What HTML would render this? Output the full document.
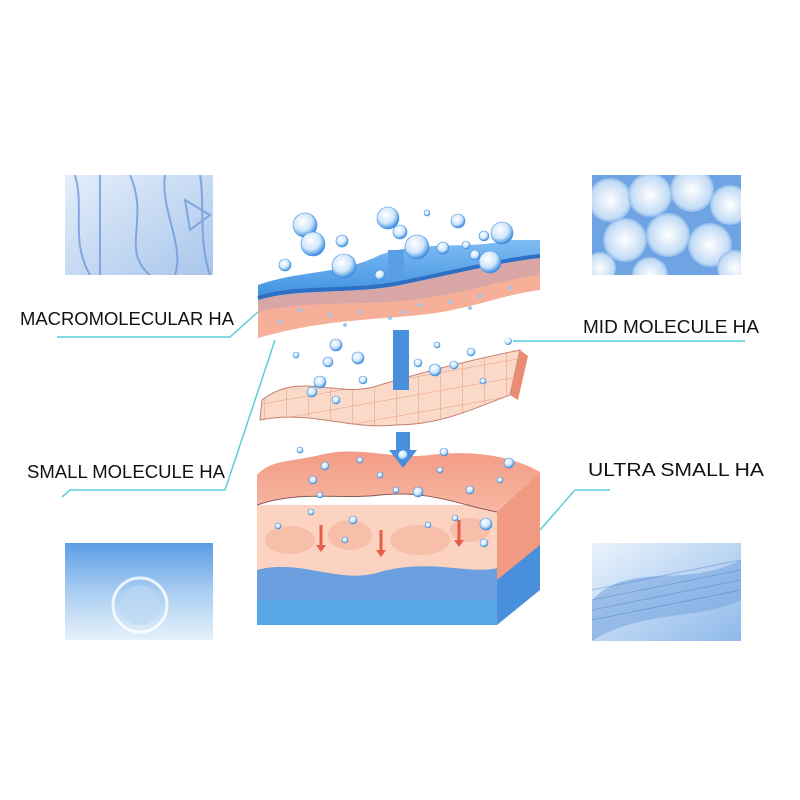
<!DOCTYPE html>
<html><head><meta charset="utf-8"><style>html,body{margin:0;padding:0;background:#fff}svg{display:block}</style></head>
<body>
<svg width="800" height="800" viewBox="0 0 800 800" xmlns="http://www.w3.org/2000/svg">
<defs>
<radialGradient id="bub" cx="0.4" cy="0.35" r="0.65"><stop offset="0" stop-color="#ffffff"/><stop offset="0.6" stop-color="#cfe6fb"/><stop offset="1" stop-color="#3a8ee0"/></radialGradient>
<linearGradient id="tl" x1="0" y1="0" x2="1" y2="1"><stop offset="0" stop-color="#e4eefa"/><stop offset="1" stop-color="#a9c6ec"/></linearGradient>
<radialGradient id="cell" cx="0.5" cy="0.5" r="0.6"><stop offset="0" stop-color="#ffffff"/><stop offset="0.7" stop-color="#c4dcf5"/><stop offset="1" stop-color="#4f93dd"/></radialGradient>
<linearGradient id="bl" x1="0" y1="0" x2="0" y2="1"><stop offset="0" stop-color="#5d9ce6"/><stop offset="0.5" stop-color="#a9cdf1"/><stop offset="1" stop-color="#e6f1fb"/></linearGradient>
<linearGradient id="br" x1="0" y1="0" x2="1" y2="1"><stop offset="0" stop-color="#eaf3fc"/><stop offset="1" stop-color="#8fb9ea"/></linearGradient>
<linearGradient id="blue" x1="0" y1="0" x2="0" y2="1"><stop offset="0" stop-color="#7fbdf3"/><stop offset="1" stop-color="#3d8fe0"/></linearGradient>
<linearGradient id="top" x1="0" y1="0" x2="0" y2="1"><stop offset="0" stop-color="#f39c86"/><stop offset="1" stop-color="#f7b7a2"/></linearGradient>
<pattern id="grid" width="22" height="18" patternUnits="userSpaceOnUse" patternTransform="skewY(-10)"><rect width="22" height="18" fill="#fbd9c8"/><path d="M0 0H22M0 0V18" stroke="#e79a86" stroke-width="1"/></pattern>
<clipPath id="c1"><rect x="65" y="175" width="148" height="100"/></clipPath>
<clipPath id="c2"><rect x="592" y="175" width="149" height="100"/></clipPath>
<clipPath id="c3"><rect x="65" y="543" width="148" height="97"/></clipPath>
<clipPath id="c4"><rect x="592" y="543" width="149" height="98"/></clipPath>
</defs>

<!-- corner images -->
<g clip-path="url(#c1)">
<rect x="65" y="175" width="148" height="100" fill="url(#tl)"/>
<g stroke="#6f9bd8" stroke-width="2" fill="none" opacity="0.8">
<path d="M75 175 C85 210 70 240 90 275"/><path d="M130 175 C150 220 120 250 150 275"/><path d="M165 175 C160 210 185 245 175 275"/><path d="M200 175 C205 200 198 240 210 275"/><path d="M100 175 V275"/><path d="M185 200 L210 215 L190 230 Z"/>
</g></g>
<g clip-path="url(#c2)">
<rect x="592" y="175" width="149" height="100" fill="#6ea4e4"/>
<g fill="url(#cell)">
<circle cx="610" cy="200" r="22"/><circle cx="650" cy="195" r="22"/><circle cx="692" cy="190" r="22"/><circle cx="730" cy="205" r="20"/>
<circle cx="625" cy="240" r="22"/><circle cx="668" cy="235" r="22"/><circle cx="710" cy="245" r="22"/><circle cx="600" cy="268" r="16"/><circle cx="650" cy="275" r="18"/><circle cx="735" cy="268" r="18"/>
</g></g>
<g clip-path="url(#c3)">
<rect x="65" y="543" width="148" height="97" fill="url(#bl)"/>
<circle cx="140" cy="605" r="27" fill="none" stroke="#fff" stroke-width="3" opacity="0.8"/>
<circle cx="140" cy="605" r="20" fill="#bcd8f4" opacity="0.6"/>
</g>
<g clip-path="url(#c4)">
<rect x="592" y="543" width="149" height="98" fill="url(#br)"/>
<path d="M592 600 C630 560 680 590 741 560 V600 C700 620 640 610 592 641Z" fill="#7aa7df" opacity="0.6"/>
<g stroke="#4f86d2" stroke-width="0.8" opacity="0.6"><path d="M592 590 L741 560M592 600 L741 570M592 610 L741 580M592 620 L741 590"/></g>
</g>

<!-- connectors -->
<g stroke="#59cfd8" stroke-width="1.5" fill="none">
<path d="M57 337 H230 L258 312"/>
<path d="M513 341 H745"/>
<path d="M62 497 L70 490 H225 L275 340"/>
<path d="M575 490 H610"/><path d="M575 490 L540 530"/>
</g>
<circle cx="508" cy="341" r="4" fill="url(#bub)"/>

<!-- labels -->
<g font-family="'Liberation Sans',sans-serif" font-size="18" fill="#111">
<text x="20" y="325" textLength="214" lengthAdjust="spacingAndGlyphs">MACROMOLECULAR HA</text>
<text x="583" y="333" textLength="176" lengthAdjust="spacingAndGlyphs">MID MOLECULE HA</text>
<text x="27" y="478" textLength="198" lengthAdjust="spacingAndGlyphs">SMALL MOLECULE HA</text>
<text x="588" y="476" textLength="176" lengthAdjust="spacingAndGlyphs">ULTRA SMALL HA</text>
</g>

<!-- bottom block -->
<path d="M497 512 L540 472 L540 590 L497 625Z" fill="#4a8fdb"/>
<path d="M497 512 L540 472 L540 545 L497 580Z" fill="#f09a82"/>
<rect x="257" y="505" width="240" height="120" fill="#fcd3c0"/>
<g fill="#f6b9a4" opacity="0.8"><ellipse cx="290" cy="540" rx="25" ry="14"/><ellipse cx="350" cy="535" rx="22" ry="15"/><ellipse cx="420" cy="540" rx="30" ry="15"/><ellipse cx="470" cy="530" rx="20" ry="12"/></g>
<path d="M257 570 C300 558 340 585 380 572 C430 558 470 575 497 568 V625 H257Z" fill="#6c9fdf"/>
<rect x="257" y="600" width="240" height="25" fill="#58a8e8"/>
<path d="M257 505 C300 490 340 500 380 495 C430 490 460 505 497 512 L540 472 C510 455 470 450 430 455 C390 460 360 445 320 455 C290 462 270 460 257 475 Z" fill="url(#top)"/>
<path d="M257 505 C300 490 340 500 380 495 C430 490 460 505 497 512" stroke="#8a5a55" stroke-width="1" fill="none"/>
<g stroke="#e85c4a" stroke-width="3"><path d="M321 525V545M381 530V550M459 520V540"/></g>
<g fill="#e85c4a"><path d="M316 545h10l-5 7z"/><path d="M376 550h10l-5 7z"/><path d="M454 540h10l-5 7z"/></g>

<!-- middle sheet -->
<path d="M262 400 C300 370 340 400 380 385 C430 370 470 360 520 350 L510 395 C470 410 440 425 395 425 C350 430 310 410 260 420 Z" fill="url(#grid)" stroke="#c68070" stroke-width="1"/>
<path d="M520 350 L528 356 L518 400 L510 395Z" fill="#ea8b74"/>

<!-- arrow -->
<rect x="393" y="330" width="16" height="60" fill="#4a8fdb"/>
<rect x="396" y="432" width="14" height="20" fill="#4a8fdb"/>
<path d="M389 450 H417 L403 468Z" fill="#4a8fdb"/>

<!-- top layer -->
<path d="M258 310 C300 295 350 305 400 295 C450 285 500 275 540 270 L540 290 C500 295 470 310 420 315 C370 320 320 320 258 338 Z" fill="#f6b09a"/>
<path d="M258 300 C300 288 350 295 400 285 C450 275 500 262 540 258 L540 275 C500 280 460 295 410 300 C360 306 310 300 258 312 Z" fill="#d9a6a6"/>
<path d="M258 285 C300 270 340 275 380 255 C420 240 470 250 510 240 L540 240 L540 258 C500 262 450 275 400 285 C350 295 300 288 258 300 Z" fill="url(#blue)"/>
<path d="M258 298 C300 285 350 293 400 283 C450 273 500 260 540 256" stroke="#2e6fc4" stroke-width="4" fill="none"/>
<rect x="388" y="250" width="16" height="30" fill="#5b9ee6"/>

<!-- bubbles -->
<g fill="url(#bub)" stroke="#3e8ee0" stroke-width="0.6">
<circle cx="305" cy="225" r="12"/><circle cx="313" cy="244" r="12"/><circle cx="388" cy="218" r="11"/><circle cx="400" cy="232" r="7"/><circle cx="417" cy="247" r="12"/><circle cx="458" cy="221" r="7"/><circle cx="502" cy="233" r="11"/><circle cx="484" cy="236" r="5"/><circle cx="490" cy="262" r="11"/><circle cx="344" cy="266" r="12"/><circle cx="285" cy="265" r="6"/><circle cx="342" cy="241" r="6"/><circle cx="443" cy="248" r="6"/><circle cx="427" cy="213" r="3"/><circle cx="380" cy="275" r="5"/><circle cx="475" cy="255" r="5"/><circle cx="466" cy="245" r="4"/>
<circle cx="336" cy="345" r="6"/><circle cx="358" cy="358" r="6"/><circle cx="328" cy="362" r="5"/><circle cx="320" cy="382" r="6"/><circle cx="312" cy="392" r="5"/><circle cx="336" cy="400" r="4"/><circle cx="363" cy="380" r="4"/><circle cx="435" cy="370" r="6"/><circle cx="454" cy="365" r="4"/><circle cx="418" cy="363" r="4"/><circle cx="471" cy="352" r="4"/><circle cx="483" cy="381" r="3"/><circle cx="296" cy="355" r="3"/><circle cx="437" cy="345" r="3"/>
<circle cx="403" cy="455" r="5"/><circle cx="418" cy="492" r="5"/><circle cx="444" cy="452" r="4"/><circle cx="509" cy="463" r="5"/><circle cx="325" cy="466" r="4"/><circle cx="313" cy="480" r="4"/><circle cx="380" cy="475" r="3"/><circle cx="470" cy="490" r="4"/><circle cx="486" cy="524" r="6"/><circle cx="484" cy="543" r="4"/><circle cx="311" cy="512" r="3"/><circle cx="353" cy="520" r="4"/><circle cx="345" cy="540" r="3"/><circle cx="428" cy="525" r="3"/><circle cx="455" cy="518" r="3"/><circle cx="278" cy="526" r="3"/><circle cx="300" cy="450" r="3"/><circle cx="360" cy="460" r="3"/><circle cx="440" cy="470" r="3"/><circle cx="500" cy="480" r="3"/><circle cx="320" cy="495" r="3"/><circle cx="396" cy="490" r="3"/>
</g>
<g fill="#9cc8f0"><circle cx="300" cy="310" r="2"/><circle cx="330" cy="315" r="2"/><circle cx="360" cy="312" r="2"/><circle cx="390" cy="318" r="2"/><circle cx="420" cy="305" r="2"/><circle cx="450" cy="302" r="2"/><circle cx="480" cy="296" r="2"/><circle cx="510" cy="288" r="2"/><circle cx="280" cy="322" r="2"/><circle cx="345" cy="325" r="2"/><circle cx="405" cy="312" r="2"/><circle cx="470" cy="308" r="2"/></g>
</svg>
</body></html>
